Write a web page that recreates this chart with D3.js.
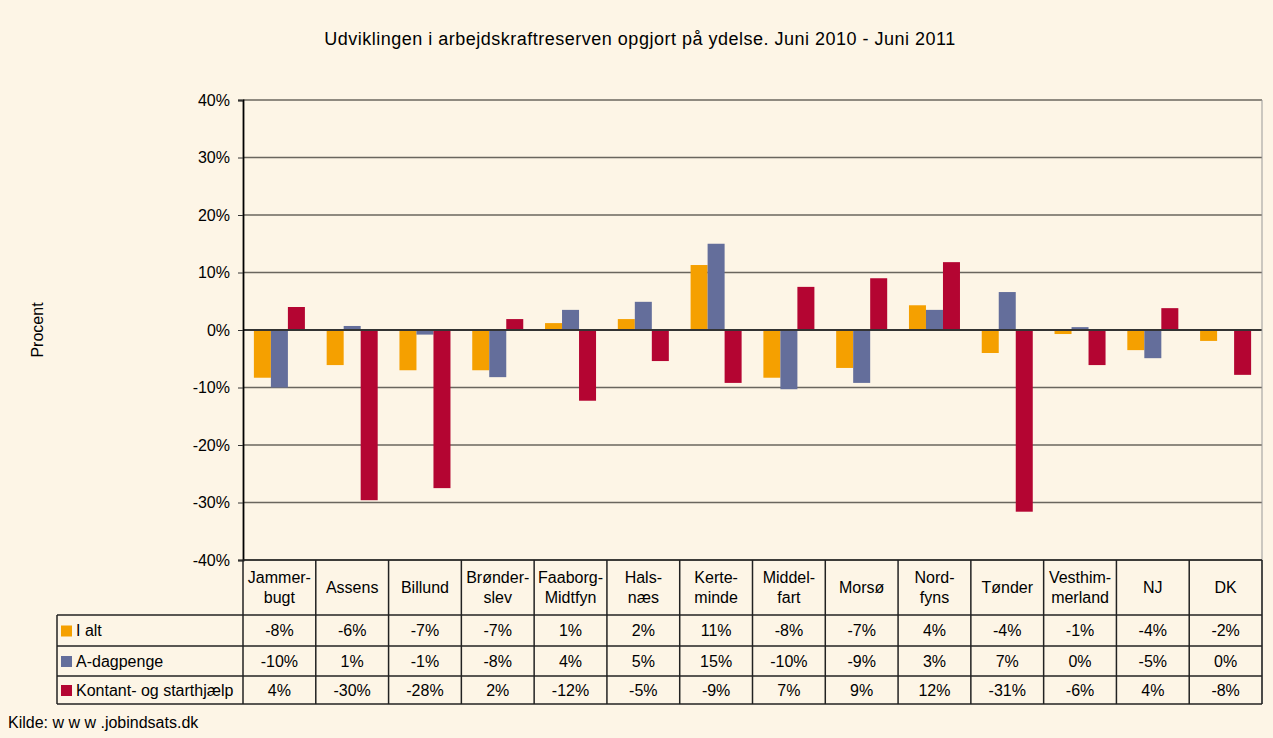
<!DOCTYPE html>
<html>
<head>
<meta charset="utf-8">
<script src="https://cdn.jsdelivr.net/npm/d3@7"></script>
<style>
  body { margin: 0; background: #fdf5e6; }
  svg { display: block; font-family: "Liberation Sans", Arial, sans-serif; }
</style>
</head>
<body>
<div id="chart"></div>
<script>
// Categories (display labels can wrap over two lines)
const categories = ["Jammerbugt", "Assens", "Billund", "Brønderslev", "Faaborg-Midtfyn", "Halsnæs",
    "Kerteminde", "Middelfart", "Morsø", "Nordfyns", "Tønder", "Vesthimmerland", "NJ", "DK"];
const categoryLines = [["Jammer-", "bugt"], ["Assens"], ["Billund"], ["Brønder-", "slev"], ["Faaborg-", "Midtfyn"],
    ["Hals-", "næs"], ["Kerte-", "minde"], ["Middel-", "fart"], ["Morsø"], ["Nord-", "fyns"], ["Tønder"],
    ["Vesthim-", "merland"], ["NJ"], ["DK"]];

const seriesNames = ["I alt", "A-dagpenge", "Kontant- og starthjælp"];
const seriesColors = ["#f5a000", "#646e9b", "#b40532"];

// Values (percent)
const iAlt = [-8.3, -6.1, -7.0, -7.0, 1.2, 1.9, 11.3, -8.3, -6.6, 4.3, -4.0, -0.7, -3.5, -1.9];
const aDagpenge = [-10.0, 0.7, -0.8, -8.2, 3.5, 4.9, 15.0, -10.3, -9.2, 3.5, 6.6, 0.5, -4.9, 0.1];
const kontant = [4.0, -29.6, -27.5, 1.9, -12.3, -5.4, -9.2, 7.5, 9.0, 11.8, -31.6, -6.1, 3.8, -7.8];

// Table labels as printed
const iAltLabels = ["-8%", "-6%", "-7%", "-7%", "1%", "2%", "11%", "-8%", "-7%", "4%", "-4%", "-1%", "-4%", "-2%"];
const aDagpengeLabels = ["-10%", "1%", "-1%", "-8%", "4%", "5%", "15%", "-10%", "-9%", "3%", "7%", "0%", "-5%", "0%"];
const kontantLabels = ["4%", "-30%", "-28%", "2%", "-12%", "-5%", "-9%", "7%", "9%", "12%", "-31%", "-6%", "4%", "-8%"];

const yTicks = [-40, -30, -20, -10, 0, 10, 20, 30, 40];

const series = [iAlt, aDagpenge, kontant];
const seriesLabels = [iAltLabels, aDagpengeLabels, kontantLabels];

const width = 1273, height = 738;
const margin = { top: 100, right: 11, left: 243 };
const plotBottom = 560;
const rowY = [560, 615, 646, 676, 704];
const tableLeft = 57;
const fs = "16px";

const svg = d3.select("#chart").append("svg")
    .attr("width", width)
    .attr("height", height);

svg.append("rect").attr("width", width).attr("height", height).attr("fill", "#fdf5e6");

const x = d3.scaleBand()
    .domain(categories)
    .range([margin.left, width - margin.right])
    .paddingInner(0)
    .paddingOuter(0);

const xInner = d3.scaleBand()
    .domain(d3.range(series.length))
    .range([0, x.bandwidth()])
    .paddingOuter(0.64)
    .paddingInner(0);

const y = d3.scaleLinear()
    .domain([-40, 40])
    .range([plotBottom, margin.top]);

// Gridlines
svg.append("g")
    .selectAll("line")
    .data(yTicks)
    .join("line")
    .attr("x1", margin.left)
    .attr("x2", width - margin.right)
    .attr("y1", d => y(d))
    .attr("y2", d => y(d))
    .attr("stroke", "#6a665e")
    .attr("stroke-width", 1.5);

// Bars
const groups = svg.append("g")
    .selectAll("g")
    .data(series)
    .join("g")
    .attr("fill", (d, i) => seriesColors[i]);

groups.each(function (vals, si) {
    d3.select(this).selectAll("rect")
        .data(vals)
        .join("rect")
        .attr("x", (d, i) => x(categories[i]) + xInner(si))
        .attr("width", xInner.bandwidth())
        .attr("y", d => y(Math.max(0, d)))
        .attr("height", d => Math.abs(y(d) - y(0)));
});

// zero line
svg.append("line")
    .attr("x1", margin.left).attr("x2", width - margin.right)
    .attr("y1", y(0)).attr("y2", y(0))
    .attr("stroke", "#333").attr("stroke-width", 1.8);

// Y axis
const yAxis = svg.append("g")
    .attr("transform", `translate(${margin.left},0)`)
    .call(d3.axisLeft(y).tickValues(yTicks).tickFormat(d => d + "%").tickSize(5).tickPadding(8));
yAxis.select(".domain").attr("stroke", "#000").attr("stroke-width", 1.8);
yAxis.selectAll(".tick line").attr("stroke", "#333");
yAxis.selectAll("text").attr("font-size", fs).attr("fill", "#000")
    .attr("font-family", "Liberation Sans, Arial, sans-serif");

// right border
svg.append("line")
    .attr("x1", width - margin.right).attr("x2", width - margin.right)
    .attr("y1", margin.top).attr("y2", rowY[4])
    .attr("stroke", "#999").attr("stroke-width", 1);

// Data table
const table = svg.append("g").attr("stroke", "#222").attr("stroke-width", 1.5);
rowY.forEach((ry, i) => {
    table.append("line")
        .attr("x1", i === 0 ? margin.left : tableLeft)
        .attr("x2", width - margin.right)
        .attr("y1", ry).attr("y2", ry);
});
table.append("line").attr("x1", tableLeft).attr("x2", tableLeft).attr("y1", rowY[1]).attr("y2", rowY[4]);
categories.forEach(c => {
    table.append("line")
        .attr("x1", x(c)).attr("x2", x(c))
        .attr("y1", rowY[0]).attr("y2", rowY[4]);
});
table.append("line")
    .attr("x1", width - margin.right).attr("x2", width - margin.right)
    .attr("y1", rowY[0]).attr("y2", rowY[4]);

// Header labels
const header = svg.append("g").attr("font-size", fs).attr("text-anchor", "middle").attr("fill", "#000");
categories.forEach((c, i) => {
    const lines = categoryLines[i];
    const cy = (rowY[0] + rowY[1]) / 2;
    const lh = 20;
    lines.forEach((ln, j) => {
        header.append("text")
            .attr("x", x(c) + x.bandwidth() / 2)
            .attr("y", cy + (j - (lines.length - 1) / 2) * lh)
            .attr("dy", "0.35em")
            .text(ln);
    });
});

// Rows
seriesLabels.forEach((labels, si) => {
    const cy = (rowY[si + 1] + rowY[si + 2]) / 2;
    svg.append("rect")
        .attr("x", 61).attr("y", cy - 5)
        .attr("width", 11).attr("height", 11)
        .attr("fill", seriesColors[si]);
    svg.append("text")
        .attr("x", 76).attr("y", cy).attr("dy", "0.35em")
        .attr("font-size", fs)
        .text(seriesNames[si]);
    svg.append("g").selectAll("text")
        .data(labels)
        .join("text")
        .attr("x", (d, i) => x(categories[i]) + x.bandwidth() / 2)
        .attr("y", cy).attr("dy", "0.35em")
        .attr("text-anchor", "middle")
        .attr("font-size", fs)
        .text(d => d);
});

// Title
svg.append("text")
    .attr("x", 640).attr("y", 45)
    .attr("text-anchor", "middle")
    .attr("font-size", "18px")
    .attr("letter-spacing", "0.5px")
    .text("Udviklingen i arbejdskraftreserven opgjort på ydelse. Juni 2010 - Juni 2011");

// Y label
svg.append("text")
    .attr("transform", `translate(43, ${y(0)}) rotate(-90)`)
    .attr("text-anchor", "middle")
    .attr("font-size", fs)
    .text("Procent");

// Source
svg.append("text")
    .attr("x", 8).attr("y", 728)
    .attr("font-size", fs)
    .text("Kilde: w w w .jobindsats.dk");
</script>
</body>
</html>
